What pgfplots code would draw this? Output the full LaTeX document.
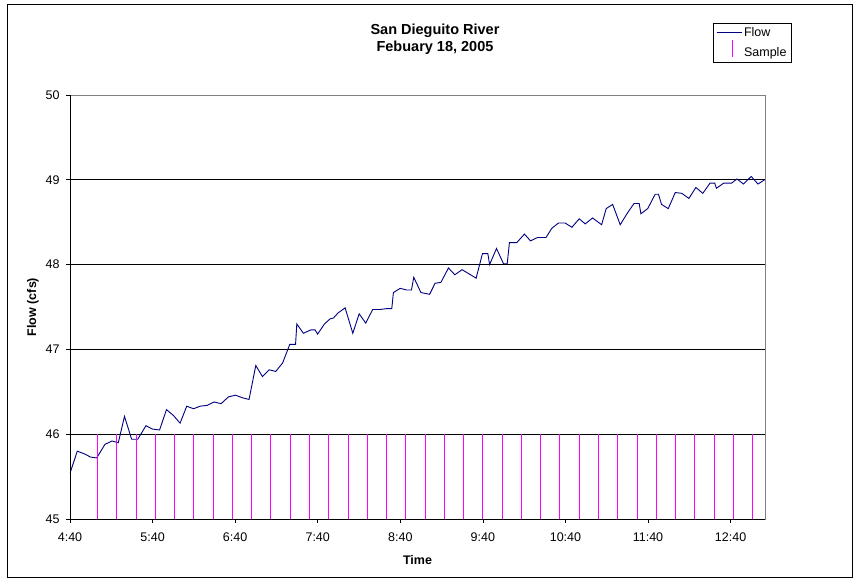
\documentclass[border=0pt]{standalone}
\usepackage{fontspec}
\setmainfont{Liberation Sans}
\usepackage{pgfplots}
\pgfplotsset{compat=1.18}
\definecolor{flowblue}{RGB}{0,0,128}
\definecolor{samplemag}{RGB}{255,0,255}

\begin{document}
\begin{tikzpicture}[x=1pt,y=1pt]
\path (0,0) rectangle (855,581);
\draw[black, line width=0.9pt] (7,4) rectangle (852,577);
\node[font=\bfseries\fontsize{14.5}{16}\selectfont] at (435,550) {San Dieguito River};
\node[font=\bfseries\fontsize{14.5}{16}\selectfont] at (435,533) {Febuary 18, 2005};
\begin{axis}[
  at={(70pt,62pt)}, anchor=south west,
  scale only axis, width=695pt, height=424pt,
  xmin=0, xmax=505, ymin=45, ymax=50,
  xtick={0,60,...,480},
  xticklabels={4:40,5:40,6:40,7:40,8:40,9:40,10:40,11:40,12:40},
  ytick={45,46,47,48,49,50},
  ymajorgrids, grid style={black, line width=0.7pt},
  tick align=outside, tick pos=left, major tick length=4pt,
  tick style={black, line width=0.7pt},
  axis line style={draw=gray, line width=0.9pt},
  clip mode=individual,
  /pgf/number format/assume math mode=true,
  tick label style={font=\fontsize{12.5}{14}\selectfont},
  xticklabel style={yshift=-6pt},
  yticklabel style={xshift=-3pt},
  xlabel={Time}, ylabel={Flow (cfs)},
  label style={font=\bfseries\fontsize{12.5}{14}\selectfont},
  xlabel style={at={(axis description cs:0.5,0)}, anchor=center, yshift=-41pt},
  ylabel style={at={(axis description cs:0,0.5)}, anchor=center, yshift=37pt},
  legend style={at={(rel axis cs:0.925,1.17)}, anchor=north west,
    draw=black, line width=0.6pt, font=\fontsize{12.5}{14}\selectfont,
    inner xsep=3pt, inner ysep=2pt, row sep=6pt, legend cell align=left},
]
\addplot[flowblue, line width=0.9pt, mark=none,
  legend image code/.code={\draw[draw=flowblue, line width=0.9pt] (0pt,0pt) -- (25pt,0pt);}]
coordinates {
(0,45.54) (5.3,45.80) (10.2,45.77) (15.0,45.73) (19.4,45.72) (25.4,45.88)
(30.5,45.92) (35.1,45.90) (39.6,46.21) (44.8,45.94) (49.2,45.94) (55.2,46.10)
(60.0,46.06) (65.1,46.05) (70.1,46.29) (75.2,46.22) (80.0,46.13) (84.8,46.33)
(89.8,46.30) (94.5,46.33) (99.6,46.34) (104.7,46.38) (109.8,46.36) (115.1,46.44)
(120.3,46.46) (125.2,46.43) (130.1,46.41) (135.0,46.81) (139.8,46.68) (144.7,46.76)
(149.5,46.74) (154.5,46.84) (159.7,47.06) (163.9,47.06) (164.8,47.30) (169.6,47.19)
(175.0,47.23) (178.1,47.23) (179.9,47.18) (184.9,47.30) (189.0,47.36) (191.4,47.37)
(194.8,47.43) (199.9,47.49) (205.5,47.19) (210.1,47.42) (214.9,47.31) (219.9,47.47)
(224.8,47.47) (229.7,47.48) (233.8,47.48) (235.0,47.67) (239.9,47.72) (244.7,47.70)
(248.1,47.70) (249.8,47.85) (255.0,47.67) (261.3,47.65) (265.3,47.78) (269.5,47.79)
(275.0,47.96) (279.6,47.88) (284.9,47.94) (290.0,47.89) (295.1,47.84) (299.7,48.13)
(303.6,48.13) (304.9,48.00) (309.9,48.19) (315.0,48.01) (317.7,48.01) (319.3,48.26)
(324.7,48.26) (330.2,48.36) (334.6,48.28) (339.8,48.32) (345.9,48.32) (350.2,48.43)
(354.9,48.49) (359.8,48.49) (364.7,48.44) (370.0,48.54) (374.4,48.48) (379.7,48.55)
(386.3,48.47) (389.6,48.66) (394.3,48.71) (399.8,48.47) (405.1,48.61) (409.8,48.72)
(413.6,48.72) (414.8,48.60) (419.8,48.66) (425.2,48.83) (427.6,48.83) (429.8,48.71)
(434.7,48.66) (439.8,48.85) (444.6,48.84) (449.7,48.78) (454.8,48.91) (459.8,48.84)
(465.0,48.96) (468.5,48.96) (469.7,48.90) (474.9,48.96) (480.7,48.96) (484.6,49.01)
(489.4,48.95) (495.0,49.04) (499.9,48.95) (504.7,49.00)
};
\addlegendentry{Flow}
\addplot[samplemag, ycomb, line width=1pt, mark=none,
  legend image code/.code={\draw[draw=samplemag, line width=1.2pt, overlay] (16pt,-4pt) -- (16pt,13pt); \path[draw=none] (0pt,0pt) -- (25pt,0pt);}]
coordinates {
(20,46) (34,46) (48,46) (62,46) (76,46) (90,46) (104,46) (118,46) (132,46)
(146,46) (160,46) (174,46) (188,46) (202,46) (216,46) (230,46) (244,46) (258,46)
(272,46) (286,46) (300,46) (314,46) (328,46) (342,46) (356,46) (370,46) (384,46)
(398,46) (412,46) (426,46) (440,46) (454,46) (468,46) (482,46) (496,46)
};
\addlegendentry{Sample}
\draw[black, line width=0.9pt] (rel axis cs:0,0) -- (rel axis cs:0,1);
\draw[black, line width=0.9pt] (rel axis cs:0,0) -- (rel axis cs:1,0);
\end{axis}
\end{tikzpicture}
\end{document}
